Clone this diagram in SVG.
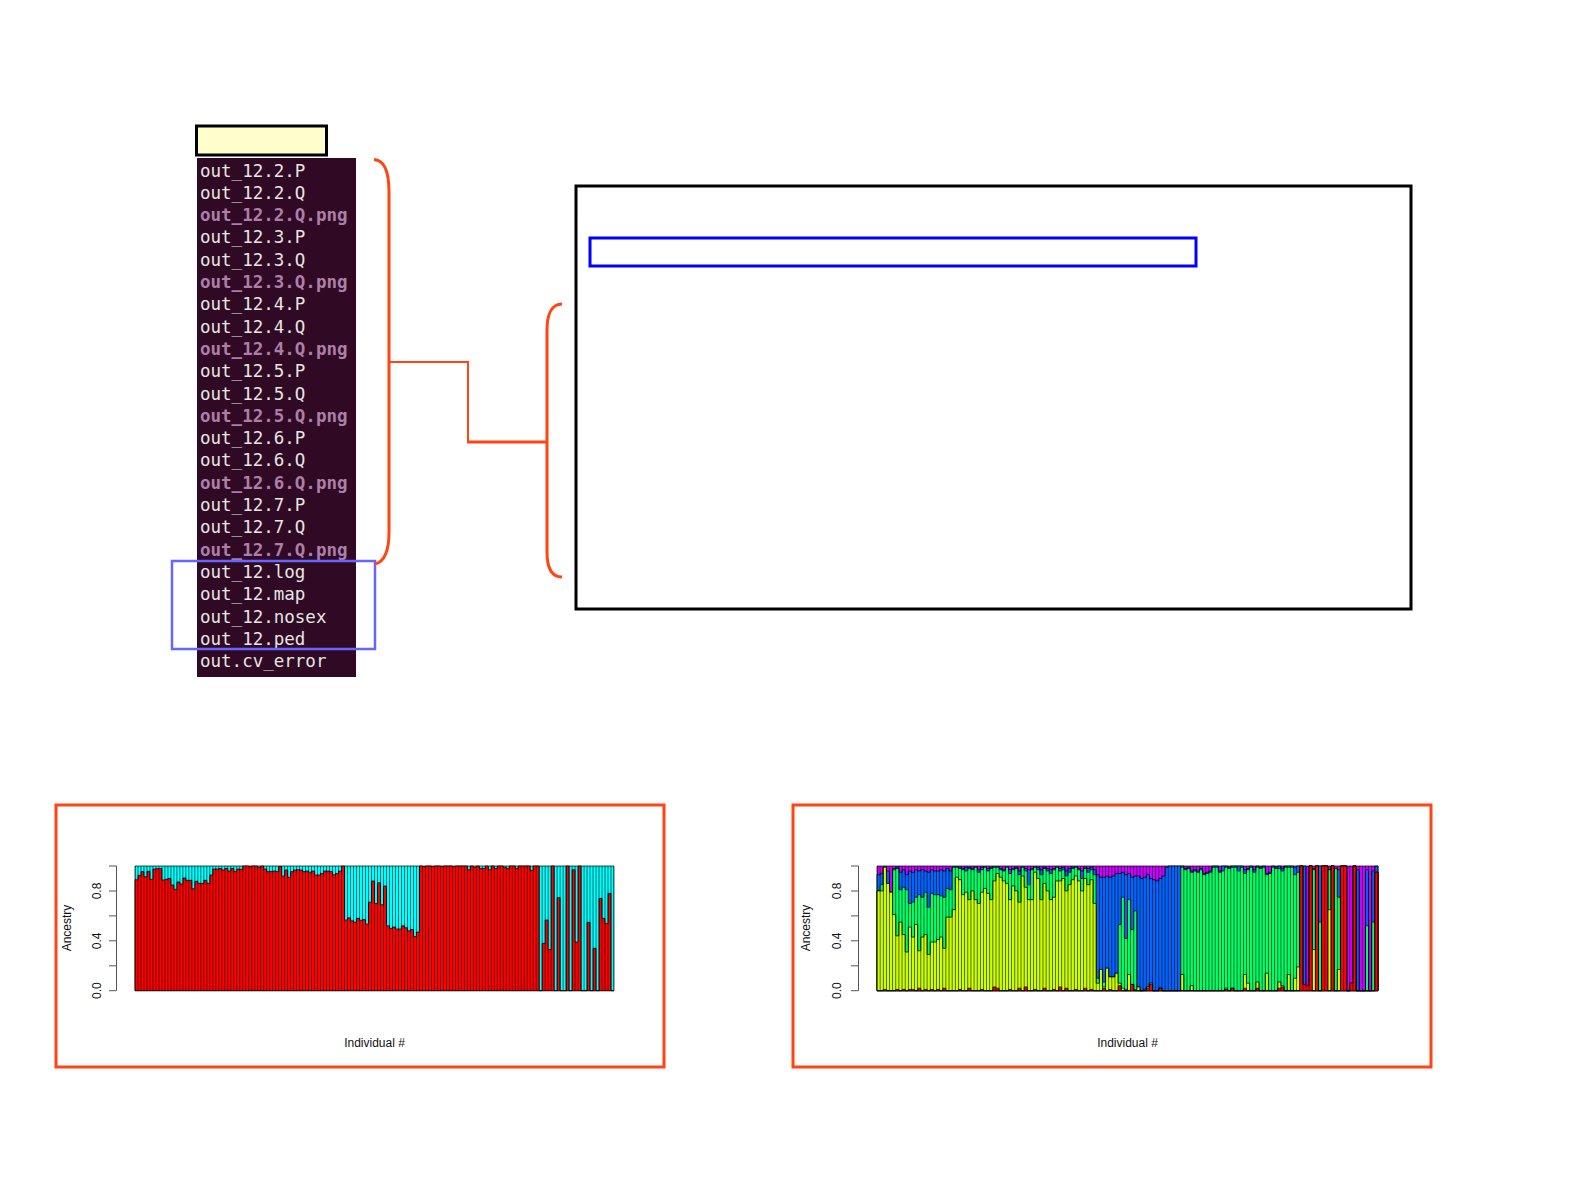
<svg xmlns="http://www.w3.org/2000/svg" width="1587" height="1190" viewBox="0 0 1587 1190">
<style>
.term{font-family:"DejaVu Sans Mono","Liberation Mono",monospace;font-size:17.5px;fill:#e6e6e2}
.png{fill:#ad7fa8;font-weight:bold}
.conn{fill:none;stroke:#ff4513}
.frame{fill:none;stroke:#ff4513;stroke-width:3}
.lab{font-family:"Liberation Sans",Arial,sans-serif;font-size:12px;fill:#111}
.bar{stroke:#000;stroke-width:0.7px;vector-effect:non-scaling-stroke}
.axis{stroke:#555;stroke-width:1;fill:none}
.sep{stroke:#000;stroke-opacity:0.8;stroke-width:124.7}
</style>
<rect width="1587" height="1190" fill="#ffffff"/>

<g id="header-box">
<rect x="196.5" y="126" width="130" height="29" fill="#ffffcc" stroke="#000" stroke-width="3"/>
</g>

<g id="file-list">
<rect x="197" y="158" width="159" height="519" fill="#300a24"/>
<text class="term" x="200" y="176.5">out_12.2.P</text>
<text class="term" x="200" y="198.8">out_12.2.Q</text>
<text class="term png" x="200" y="221.1">out_12.2.Q.png</text>
<text class="term" x="200" y="243.4">out_12.3.P</text>
<text class="term" x="200" y="265.7">out_12.3.Q</text>
<text class="term png" x="200" y="288">out_12.3.Q.png</text>
<text class="term" x="200" y="310.3">out_12.4.P</text>
<text class="term" x="200" y="332.6">out_12.4.Q</text>
<text class="term png" x="200" y="354.9">out_12.4.Q.png</text>
<text class="term" x="200" y="377.2">out_12.5.P</text>
<text class="term" x="200" y="399.5">out_12.5.Q</text>
<text class="term png" x="200" y="421.8">out_12.5.Q.png</text>
<text class="term" x="200" y="444.1">out_12.6.P</text>
<text class="term" x="200" y="466.4">out_12.6.Q</text>
<text class="term png" x="200" y="488.7">out_12.6.Q.png</text>
<text class="term" x="200" y="511">out_12.7.P</text>
<text class="term" x="200" y="533.3">out_12.7.Q</text>
<text class="term png" x="200" y="555.6">out_12.7.Q.png</text>
<text class="term" x="200" y="577.9">out_12.log</text>
<text class="term" x="200" y="600.2">out_12.map</text>
<text class="term" x="200" y="622.5">out_12.nosex</text>
<text class="term" x="200" y="644.8">out_12.ped</text>
<text class="term" x="200" y="667.1">out.cv_error</text>
</g>

<g id="selection-box">
<rect x="172" y="561" width="203" height="88" fill="none" stroke="#6666ff" stroke-width="2.5"/>
</g>

<g id="info-panel">
<rect x="576" y="186" width="835" height="423" fill="#ffffff" stroke="#000" stroke-width="3"/>
<rect x="590" y="238" width="606" height="28" fill="none" stroke="#0000ff" stroke-width="3"/>
</g>

<g id="connectors">
<path class="conn" stroke-width="3" d="M374,159.5 C384,160 389,172 389,192 V532 C389,552 384,562 375,564"/>
<path class="conn" stroke-width="2" d="M389,362 H468 V442"/>
<path class="conn" stroke-width="3" d="M467,442 H547"/>
<path class="conn" stroke-width="3" d="M562,304 C552,304 547,314 547,330 V552 C547,568 552,577 562,577"/>
</g>

<g id="plot-k2">
<rect class="frame" x="56" y="805" width="608" height="262"/>
<g transform="translate(135,990.7) scale(2.99375,-1.247)">
<rect class="bar" x="0" y="0" width="160" height="100" fill="#00ffff"/>
<path class="bar" fill="#ff0000" d="M0,0V89H1V92.5H2V95.5H3V91.4H4V95.7H5V89.3H6V97.6H7V97.9H8V97.9H9V88.8H10V89.3H11V90H12V84.8H13V81.3H14V87.2H15V85.6H16V90.4H17V88.5H18V88.5H19V81.8H20V87.7H21V86.1H22V86.1H23V88.5H24V86.1H25V92.8H26V97.6H27V97.6H28V98H29V96.8H30V98H31V96H32V98H33V95.7H34V97.6H35V97.3H36V100H38V99.5H39V100H41V99H42V100H43V97.6H44V95.5H45V95.7H46V96H47V95.5H48V99.5H49V92H50V96.8H51V91H52V95.5H53V96.8H54V97H55V96.8H56V95.5H57V96H58V95H59V96H60V92.8H61V92.8H62V94H63V96H64V96H65V95.5H66V93H67V94H68V96H69V100H70V56.7H71V58.5H72V56H73V55H74V58H75V56.5H76V57H77V53.5H78V71H79V88H80V70H81V86.6H82V69H83V84H84V52H85V50H86V51H87V49.5H88V49.5H89V52H90V50.5H91V48H92V49H93V43.5H94V47H95V100H96V99.5H97V100H99V99.5H100V100H102V99.5H103V100H106V99.5H107V100H111V97H112V100H113V99H114V100H115V98H116V98H117V100H118V97H119V100H120V98H121V100H123V99H124V98H125V100H127V98H128V100H132V96.5H133V100H135V0H136V38H137V56.7H138V33H139V100H140V0H141V74.6H142V0H144V100H145V0H146V97H147V39H148V100H149V0H151V54.8H152V0H153V34H154V0H155V74H156V58H157V54H158V78H159V0H160V0z"/>
</g>
<line class="sep" x1="135" y1="928.35" x2="614" y2="928.35" stroke-dasharray="0.7 2.29375" stroke-dashoffset="0.35"/>
<path class="axis" d="M116.5,866V990.7M109,990.7H116.5M109,965.8H116.5M109,940.8H116.5M109,915.9H116.5M109,891H116.5M109,866H116.5"/>
<text class="lab" text-anchor="middle" transform="translate(101,990.7) rotate(-90)">0.0</text>
<text class="lab" text-anchor="middle" transform="translate(101,940.8) rotate(-90)">0.4</text>
<text class="lab" text-anchor="middle" transform="translate(101,891) rotate(-90)">0.8</text>
<text class="lab" text-anchor="middle" transform="translate(70.5,928) rotate(-90)">Ancestry</text>
<text class="lab" text-anchor="middle" x="374.5" y="1047">Individual #</text>
</g>

<g id="plot-k5">
<rect class="frame" x="793" y="805" width="638" height="262"/>
<g transform="translate(877,990.7) scale(3.13125,-1.247)">
<rect class="bar" x="0" y="0" width="160" height="100" fill="#cc00ff"/>
<path class="bar" fill="#0066ff" d="M0,0V93H1V94H2V99H3V96H4V79H5V98H6V99H7V95H8V97H9V93H10V96H11V95H12V97H13V96H14V97H15V96H16V95H17V97H18V96H19V96H20V97H21V96H22V98H23V96H24V99H25V99H26V99H27V98H28V99H29V99H30V98H31V99H32V97H33V99H34V99H35V98H36V99H37V99H38V99H39V98H40V97H41V99H42V97H43V98H44V99H45V96H46V99H47V98H48V97H49V98H50V99H51V99H52V97H53V99H54V98H55V97H56V98H57V99H58V98H59V99H60V96H61V98H62V99H63V99H64V98H65V96H66V99H67V98H68V99H69V97H70V93H71V91H72V91H73V92H74V91H75V92H76V94H77V94H78V95H79V93H80V94H81V91H82V92H83V92H84V90H85V91H86V93H87V90H88V89H89V88H90V90H91V92H92V99H93V100H98V98H99V99H100V96H101V97H102V96H103V98H104V94H105V95H106V96H107V100H109V96H110V100H112V99H113V100H117V97H118V98H119V100H120V97H121V100H122V99H123V100H124V94H125V95H126V100H127V99H128V100H129V98H130V100H133V99H134V100H137V4H138V100H139V98H140V100H144V97H145V100H146V98H147V97H148V100H150V0H151V6H152V100H153V97H154V0H156V97H157V0H158V96H159V100H160V0z"/>
<path class="bar" fill="#00ff66" d="M0,0V80H1V85H2V99H3V86H4V79H5V97H6V98H7V81H8V83H9V81H10V70H11V71H12V75H13V77H14V75H15V79H16V67H17V78H18V77H19V77H20V76H21V75H22V82H23V81H24V99H25V99H26V98H27V97H28V96H29V98H30V97H31V99H32V95H33V97H34V99H35V96H36V98H37V99H38V99H39V97H40V96H41V99H42V94H43V97H44V98H45V93H46V99H47V96H48V85H49V97H50V99H51V97H52V93H53V98H54V96H55V94H56V97H57V99H58V96H59V97H60V92H61V95H62V98H63V99H64V97H65V90H66V98H67V95H68V97H69V93H70V10H71V17H72V7H73V18H74V11H75V11H76V14H77V53H78V75H79V42H80V73H81V49H82V64H83V3H84V0H85V1H86V3H87V6H88V0H90V2H91V0H97V99H98V97H99V98H100V95H101V96H102V95H103V97H104V93H105V94H106V95H107V99H108V99H109V95H110V96H111V99H112V98H113V99H114V99H115V96H116V99H117V94H118V97H119V99H120V95H121V99H122V98H123V99H124V93H125V94H126V99H127V98H128V98H129V96H130V99H133V93H134V95H135V100H136V5H137V4H138V100H139V97H140V100H141V55H142V100H144V97H145V100H146V98H147V75H148V100H150V0H151V6H152V100H153V0H156V52H157V0H158V55H159V95H160V0z"/>
<path class="bar" fill="#ccff00" d="M0,0V80H1V80H2V99H3V86H4V79H5V61H6V44H7V55H8V45H9V31H10V51H11V43H12V53H13V32H14V43H15V45H16V29H17V39H18V39H19V41H20V43H21V34H22V59H23V59H24V65H25V91H26V89H27V77H28V79H29V73H30V80H31V73H32V70H33V79H34V82H35V78H36V73H37V88H38V94H39V91H40V88H41V86H42V73H43V84H44V80H45V71H46V92H47V83H48V73H49V73H50V95H51V90H52V73H53V86H54V80H55V73H56V75H57V88H58V88H59V90H60V80H61V85H62V89H63V92H64V88H65V80H66V90H67V85H68V89H69V70H70V6H71V17H72V3H73V18H74V11H75V11H76V14H77V6H78V2H79V1H80V13H81V5H82V1H83V3H84V0H85V1H86V3H87V6H88V0H90V2H91V0H97V13H98V0H100V4H101V0H111V2H112V0H113V2H114V0H117V13H118V6H119V0H121V7H122V0H124V14H125V0H128V7H129V4H130V0H131V13H132V0H133V10H134V19H135V100H136V5H137V4H138V100H139V33H140V100H141V0H142V100H144V65H145V100H146V0H147V17H148V100H150V0H151V6H152V100H153V0H159V95H160V0z"/>
<path class="bar" fill="#ff0000" d="M0,0V0H2V1H3V0H6V1H7V0H8V1H9V0H10V1H12V0H13V2H14V0H15V1H16V0H17V1H18V0H19V1H20V0H21V2H22V0H26V1H27V0H29V2H30V0H33V1H34V0H37V3H38V2H39V0H42V1H43V0H45V2H46V0H47V3H48V0H50V1H51V0H53V2H54V0H56V1H57V0H58V3H59V0H60V2H61V0H63V1H64V0H66V2H67V0H68V1H69V0H72V2H73V0H74V1H75V0H77V4H78V0H81V5H82V0H86V2H87V5H88V0H90V2H91V0H111V1H112V0H113V2H114V0H117V2H118V0H121V2H122V0H128V2H129V3H130V0H135V100H136V5H137V4H138V100H139V0H140V100H141V0H142V100H144V0H145V100H146V0H148V100H150V0H151V6H152V100H153V0H159V95H160V0z"/>
</g>
<line class="sep" x1="877" y1="928.35" x2="1378" y2="928.35" stroke-dasharray="0.7 2.43125" stroke-dashoffset="0.35"/>
<path class="axis" d="M858.5,866V990.7M851,990.7H858.5M851,965.8H858.5M851,940.8H858.5M851,915.9H858.5M851,891H858.5M851,866H858.5"/>
<text class="lab" text-anchor="middle" transform="translate(841,990.7) rotate(-90)">0.0</text>
<text class="lab" text-anchor="middle" transform="translate(841,940.8) rotate(-90)">0.4</text>
<text class="lab" text-anchor="middle" transform="translate(841,891) rotate(-90)">0.8</text>
<text class="lab" text-anchor="middle" transform="translate(809.5,928) rotate(-90)">Ancestry</text>
<text class="lab" text-anchor="middle" x="1127.5" y="1047">Individual #</text>
</g>
</svg>
